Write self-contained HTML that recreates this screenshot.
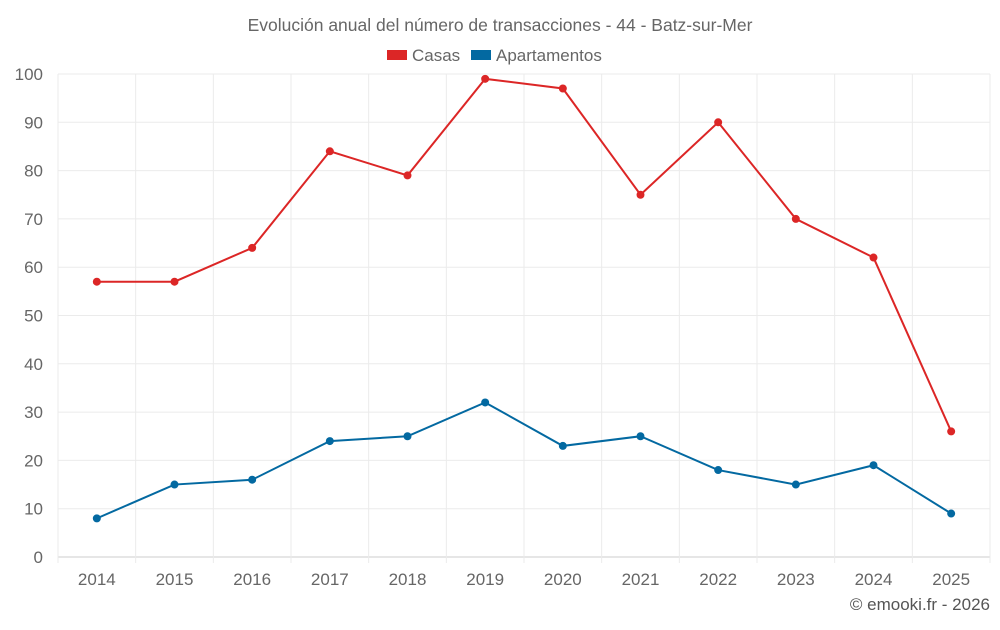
<!DOCTYPE html>
<html><head><meta charset="utf-8"><style>
body{margin:0;background:#fff;font-family:"Liberation Sans",sans-serif;}
</style></head><body>
<svg id="chart" width="1000" height="625" xmlns="http://www.w3.org/2000/svg" style="font-family:'Liberation Sans',sans-serif">
<text x="500" y="31" text-anchor="middle" font-size="17.5" fill="#666">Evolución anual del número de transacciones - 44 - Batz-sur-Mer</text>
<g>
<g><rect x="387" y="50" width="20" height="10" fill="#dc2626"/><text x="412" y="61" font-size="17" fill="#666">Casas</text></g>
<g><rect x="471" y="50" width="20" height="10" fill="#0369a1"/><text x="496" y="61" font-size="17" fill="#666">Apartamentos</text></g>
</g>
<g id="grid"></g><g id="axes"></g><g id="series"></g>
<text x="990" y="610" text-anchor="end" font-size="17" fill="#555">© emooki.fr - 2026</text>
</svg>
<script>
const years=["2014","2015","2016","2017","2018","2019","2020","2021","2022","2023","2024","2025"];
const casas=[57,57,64,84,79,99,97,75,90,70,62,26];
const apartamentos=[8,15,16,24,25,32,23,25,18,15,19,9];
const yTicks=[0,10,20,30,40,50,60,70,80,90,100];
const NS="http://www.w3.org/2000/svg";
const L=58,R=990,T=74,B=557;
const step=(R-L)/years.length;
const xs=i=>L+step*(i+0.5);
const ys=v=>B-(v/100)*(B-T);
function mk(t,a,p){const e=document.createElementNS(NS,t);for(const k in a)e.setAttribute(k,a[k]);p.appendChild(e);return e;}
const grid=document.getElementById('grid'),axes=document.getElementById('axes'),ser=document.getElementById('series');
yTicks.forEach(v=>{
 const l=mk('line',{x1:L,x2:R,y1:ys(v),y2:ys(v),stroke:v===0?'#ccc':'#ebebeb'},grid);
 
 
 const t=mk('text',{x:L-15,y:ys(v)+6,'text-anchor':'end','font-size':17,fill:'#666'},axes);
 t.textContent=v;
 
 
});
for(let i=0;i<=years.length;i++){
 const l=mk('line',{x1:L+step*i,x2:L+step*i,y1:T,y2:B+6,stroke:'#ebebeb'},grid);
 
 
}
years.forEach((y,i)=>{
 const t=mk('text',{x:xs(i),y:585,'text-anchor':'middle','font-size':17,fill:'#666'},axes);
 t.textContent=y;
 
 
});
function draw(vals,color,name){
 const p=mk('polyline',{points:vals.map((v,i)=>xs(i)+','+ys(v)).join(' '),fill:'none',stroke:color,'stroke-width':2},ser);
 
 
 vals.forEach((v,i)=>{
  const c=mk('circle',{cx:xs(i),cy:ys(v),r:4,fill:color},ser);
  
  
 });
}
draw(casas,'#dc2626','casas');
draw(apartamentos,'#0369a1','apartamentos');
</script>
</body></html>
